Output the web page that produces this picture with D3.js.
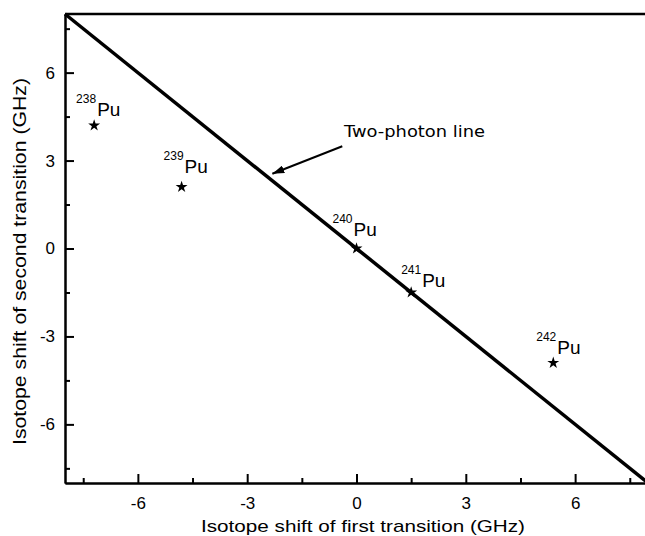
<!DOCTYPE html>
<meta charset="utf-8">
<style>
body { margin: 0; background: #fff; }
svg { display: block; }
.axis path, .axis line { stroke: #000; stroke-width: 2px; }
.axis text { font-family: "Liberation Sans", Arial, sans-serif; font-size: 17px; fill: #000; }
.title { font-family: "Liberation Sans", Arial, sans-serif; font-size: 17px; fill: #000; }
.iso { font-family: "Liberation Sans", Arial, sans-serif; fill: #000; }
.note { font-family: "DejaVu Sans", sans-serif; font-size: 16px; fill: #000; }
</style>
<svg width="645" height="536"></svg>
<script src="https://cdn.jsdelivr.net/npm/d3@7"></script>
<script>

// isotope shifts (GHz)
var isotopes = ["238", "239", "240", "241", "242"];
var shiftFirst = [-7.2, -4.8, 0, 1.5, 5.4];
var shiftSecond = [4.2, 2.1, 0, -1.5, -3.9];

var majorTicks = [-6, -3, 0, 3, 6];
var minorTicks = [-7.5, -4.5, -1.5, 1.5, 4.5, 7.5];

// two-photon line y = -x, and the arrow pointing at it
var twoPhotonX = [-8, 8];
var twoPhotonY = [8, -8];
var arrowX = [-0.39, -2.31];
var arrowY = [3.49, 2.55];

var svg = d3.select("svg"),
    plotLeft = 65, plotTop = 14, plotBottom = 483;

var x = d3.scaleLinear().domain([-8, 8]).range([plotLeft, 648]);
var y = d3.scaleLinear().domain([-8, 8]).range([plotBottom, plotTop]);

svg.append("defs").append("marker")
    .attr("id", "head")
    .attr("viewBox", "0 0 12 8")
    .attr("refX", 12).attr("refY", 4)
    .attr("markerWidth", 12).attr("markerHeight", 8)
    .attr("markerUnits", "userSpaceOnUse")
    .attr("orient", "auto")
  .append("path")
    .attr("d", "M0,0L12,4L0,8Z")
    .attr("fill", "#000");

// top border
svg.append("line")
    .attr("x1", plotLeft).attr("x2", 650)
    .attr("y1", plotTop).attr("y2", plotTop)
    .attr("stroke", "#000").attr("stroke-width", 2.5);

// axes, ticks inside
svg.append("g").attr("class", "axis")
    .attr("transform", "translate(0," + plotBottom + ")")
    .call(d3.axisBottom(x).tickValues(majorTicks).tickSize(-9).tickSizeOuter(0).tickPadding(14)
      .tickFormat(d3.format("d")));
svg.append("g").attr("class", "axis")
    .attr("transform", "translate(0," + plotBottom + ")")
    .call(d3.axisBottom(x).tickValues(minorTicks).tickSize(-5).tickSizeOuter(0).tickFormat(""));

svg.append("g").attr("class", "axis")
    .attr("transform", "translate(" + plotLeft + ",0)")
    .call(d3.axisLeft(y).tickValues(majorTicks).tickSize(-9).tickSizeOuter(0).tickPadding(10)
      .tickFormat(d3.format("d")));
svg.append("g").attr("class", "axis")
    .attr("transform", "translate(" + plotLeft + ",0)")
    .call(d3.axisLeft(y).tickValues(minorTicks).tickSize(-5).tickSizeOuter(0).tickFormat(""));

svg.selectAll(".axis text").text(function() { return this.textContent.replace("−", "-"); });

// axis titles
svg.append("text").attr("class", "title")
    .attr("x", 201).attr("y", 532)
    .attr("textLength", 324).attr("lengthAdjust", "spacingAndGlyphs")
    .text("Isotope shift of first transition (GHz)");

svg.append("text").attr("class", "title")
    .attr("transform", "translate(26,445) rotate(-90)")
    .attr("textLength", 367).attr("lengthAdjust", "spacingAndGlyphs")
    .style("font-size", "19px")
    .text("Isotope shift of second transition (GHz)");

// two-photon line
svg.append("line")
    .attr("x1", x(twoPhotonX[0])).attr("y1", y(twoPhotonY[0]))
    .attr("x2", x(twoPhotonX[1])).attr("y2", y(twoPhotonY[1]))
    .attr("stroke", "#000").attr("stroke-width", 3.5);

svg.append("line")
    .attr("x1", x(arrowX[0])).attr("y1", y(arrowY[0]))
    .attr("x2", x(arrowX[1])).attr("y2", y(arrowY[1]))
    .attr("stroke", "#000").attr("stroke-width", 2)
    .attr("marker-end", "url(#head)");

svg.append("text").attr("class", "note")
    .attr("x", 344).attr("y", 137)
    .attr("textLength", 141).attr("lengthAdjust", "spacingAndGlyphs")
    .text("Two-photon line");

// points
var pts = isotopes.map(function(m, i) { return {mass: m, x: shiftFirst[i], y: shiftSecond[i]}; });

svg.selectAll("path.star").data(pts).enter().append("path")
    .attr("class", "star")
    .attr("d", d3.symbol().type(d3.symbolStar).size(44))
    .attr("transform", function(d) { return "translate(" + x(d.x) + "," + y(d.y) + ")"; })
    .attr("fill", "#000");

// label placement relative to the star (px)
var labelNudge = { "238": [3, -9], "239": [3, -14], "240": [-3, -13], "241": [11, -5], "242": [4, -9] };

svg.selectAll("text.pu").data(pts).enter().append("text")
    .attr("class", "iso pu")
    .attr("x", function(d) { return x(d.x) + labelNudge[d.mass][0]; })
    .attr("y", function(d) { return y(d.y) + labelNudge[d.mass][1]; })
    .style("font-size", "19px")
    .text("Pu");

svg.selectAll("text.mass").data(pts).enter().append("text")
    .attr("class", "iso mass")
    .attr("text-anchor", "end")
    .attr("x", function(d) { return x(d.x) + labelNudge[d.mass][0] - 1; })
    .attr("y", function(d) { return y(d.y) + labelNudge[d.mass][1] - 13; })
    .style("font-size", "12px")
    .text(function(d) { return d.mass; });

</script>
